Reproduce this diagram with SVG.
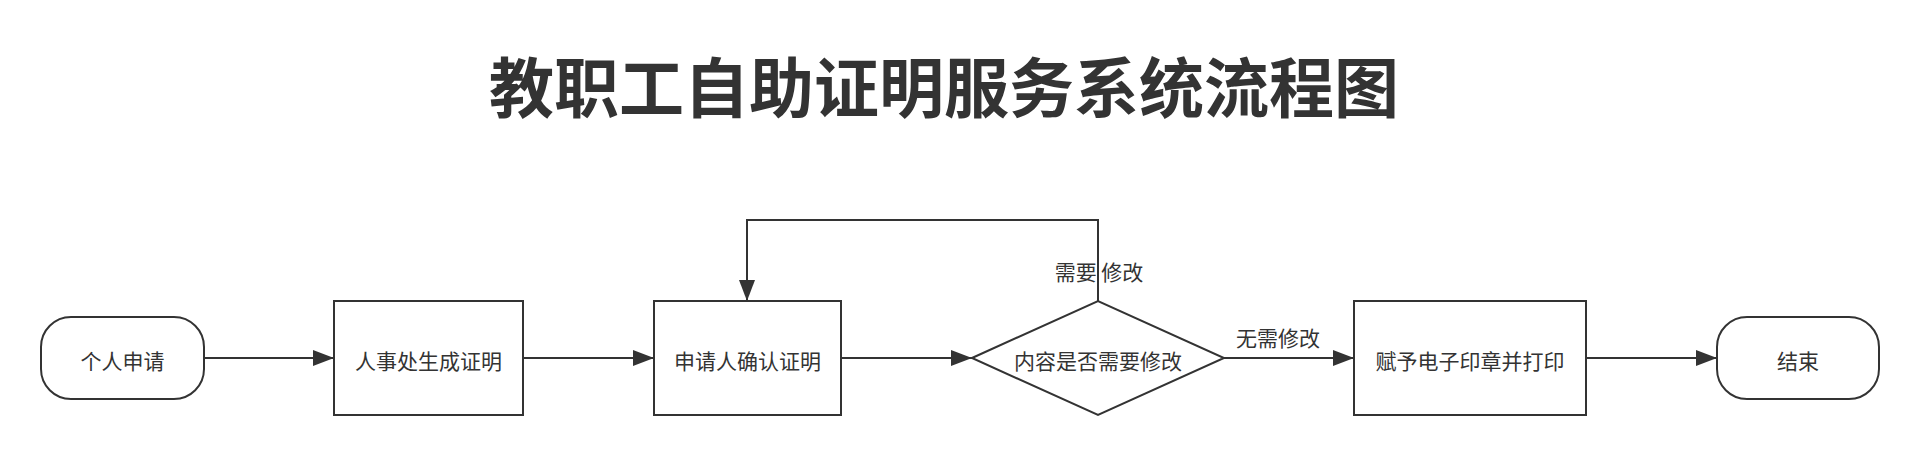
<svg xmlns="http://www.w3.org/2000/svg" width="1920" height="456" viewBox="0 0 1920 456">
<style>
.shape{fill:#ffffff;stroke:#333333;stroke-width:2}
.edge{fill:none;stroke:#333333;stroke-width:2}
.lbl{font-family:"Noto Sans CJK SC","Noto Sans",sans-serif;font-size:21px;fill:#333333;text-anchor:middle;dominant-baseline:central}
.title{font-family:"Noto Sans CJK SC","Noto Sans",sans-serif;font-size:65px;font-weight:bold;fill:#333333;text-anchor:middle;dominant-baseline:central}
</style>
<defs>
<marker id="arr" markerUnits="userSpaceOnUse" markerWidth="21" markerHeight="16" refX="21" refY="8" orient="auto">
<path d="M0,0 L21,8 L0,16 z" fill="#333333"/>
</marker>
</defs>
<rect width="1920" height="456" fill="#ffffff"/>
<text class="title" x="944" y="84">教职工自助证明服务系统流程图</text>
<g id="connectors">
<path class="edge" d="M204,358 H334" marker-end="url(#arr)"/>
<path class="edge" d="M523,358 H654" marker-end="url(#arr)"/>
<path class="edge" d="M841,358 H972" marker-end="url(#arr)"/>
<path class="edge" d="M1098,301 V220 H747 V301" marker-end="url(#arr)"/>
<text class="lbl" x="1099" y="271">需要 修改</text>
<path class="edge" d="M1224,358 H1354" marker-end="url(#arr)"/>
<text class="lbl" x="1278" y="337">无需修改</text>
<path class="edge" d="M1586,358 H1717" marker-end="url(#arr)"/>
</g>
<g id="start">
<rect class="shape" x="41" y="317" width="163" height="82" rx="30" ry="30"/>
<text class="lbl" x="122.5" y="360">个人申请</text>
</g>
<g id="generate">
<rect class="shape" x="334" y="301" width="189" height="114"/>
<text class="lbl" x="428.5" y="360">人事处生成证明</text>
</g>
<g id="confirm">
<rect class="shape" x="654" y="301" width="187" height="114"/>
<text class="lbl" x="747.5" y="360">申请人确认证明</text>
</g>
<g id="decision">
<polygon class="shape" points="972,358 1098,301 1224,358 1098,415"/>
<text class="lbl" x="1098" y="360">内容是否需要修改</text>
</g>
<g id="stamp">
<rect class="shape" x="1354" y="301" width="232" height="114"/>
<text class="lbl" x="1470" y="360">赋予电子印章并打印</text>
</g>
<g id="end">
<rect class="shape" x="1717" y="317" width="162" height="82" rx="30" ry="30"/>
<text class="lbl" x="1798" y="360">结束</text>
</g>
</svg>
